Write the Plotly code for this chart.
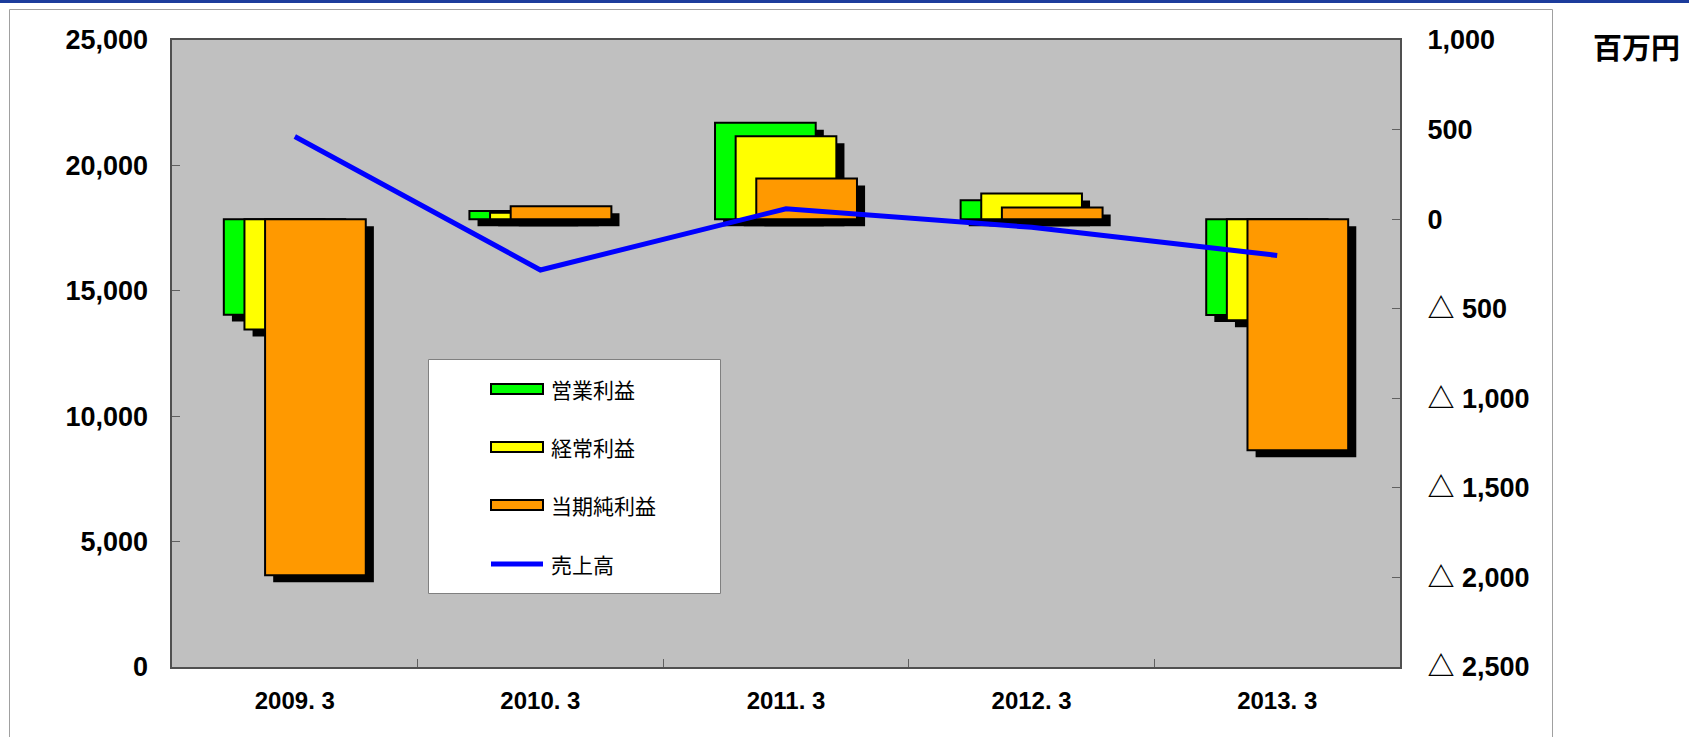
import plotly.graph_objects as go

# ---- data (百万円) ----
periods = ["2009. 3", "2010. 3", "2011. 3", "2012. 3", "2013. 3"]
sales = [21150, 15830, 18270, 17530, 16410]            # 売上高 (left axis)
operating_profit = [-533, 45, 538, 105, -535]         # 営業利益
ordinary_profit = [-616, 35, 463, 143, -565]          # 経常利益
net_income = [-1988, 72, 227, 65, -1290]              # 当期純利益

profit_ticks = [-2500, -2000, -1500, -1000, -500, 0, 500, 1000]
profit_ticktext = ["△ 2,500", "△ 2,000", "△ 1,500", "△ 1,000", "△ 500", "0", "500", "1,000"]
sales_ticks = [0, 5000, 10000, 15000, 20000, 25000]
sales_ticktext = ["0", "5,000", "10,000", "15,000", "20,000", "25,000"]

# ---- geometry ----
W, H = 1689, 737
L, R, T, B = 172, 1400, 40, 667

BAR_W = 0.41
SHADOW_DX = 0.033      # category units
SHADOW_DY = 39         # profit-axis units

series = [
    ("営業利益", operating_profit, "#00FF00", -0.289),
    ("経常利益", ordinary_profit, "#FFFF00", -0.205),
    ("当期純利益", net_income, "#FF9900", -0.121),
]


def px_x(x):
    return (x - L) / (R - L)


def px_y(y):
    return (B - y) / (B - T)


TICK_FONT = dict(family="Liberation Sans, Noto Sans CJK JP, sans-serif",
                 size=27, color="black", weight="bold")
JP_FONT = "Noto Sans CJK JP, sans-serif"

fig = go.Figure()

for name, vals, color, off in series:
    # drop shadow
    fig.add_trace(go.Bar(
        x=periods, y=vals, base=[-SHADOW_DY] * len(vals),
        offset=off + SHADOW_DX, width=BAR_W,
        marker=dict(color="black", line=dict(width=0)),
        showlegend=False, hoverinfo="skip", yaxis="y",
    ))
    fig.add_trace(go.Bar(
        x=periods, y=vals, offset=off, width=BAR_W, name=name,
        marker=dict(color=color, line=dict(color="black", width=2)),
        showlegend=False, yaxis="y",
    ))

fig.add_trace(go.Scatter(
    x=periods, y=sales, mode="lines", name="売上高", yaxis="y2",
    line=dict(color="#0000FF", width=5), showlegend=False,
))

shapes = []
annotations = []

# outer frame and top rule
shapes.append(dict(type="rect", xref="paper", yref="paper",
                   x0=px_x(9.5), x1=px_x(1552.5), y0=px_y(760), y1=px_y(9.5),
                   line=dict(color="#A0A0A0", width=1), fillcolor="rgba(0,0,0,0)", layer="below"))
shapes.append(dict(type="rect", xref="paper", yref="paper",
                   x0=px_x(-5), x1=px_x(W + 5), y0=px_y(3), y1=px_y(-1),
                   line=dict(width=0), fillcolor="#1C3C9C"))

# legend box
shapes.append(dict(type="rect", xref="paper", yref="paper",
                   x0=px_x(428.5), x1=px_x(720.5), y0=px_y(593.5), y1=px_y(359.5),
                   line=dict(color="#808080", width=1), fillcolor="white"))
legend_rows = [(name, color, yc) for (name, _, color, _), yc in zip(series, [389, 447, 505])]
for name, color, yc in legend_rows:
    shapes.append(dict(type="rect", xref="paper", yref="paper",
                       x0=px_x(491), x1=px_x(543), y0=px_y(yc + 5), y1=px_y(yc - 5),
                       line=dict(color="black", width=2), fillcolor=color))
    annotations.append(dict(xref="paper", yref="paper", x=px_x(549), y=px_y(yc),
                            xanchor="left", yanchor="middle", showarrow=False, text=name,
                            font=dict(family=JP_FONT, size=21, color="black")))
shapes.append(dict(type="line", xref="paper", yref="paper",
                   x0=px_x(491), x1=px_x(543), y0=px_y(564), y1=px_y(564),
                   line=dict(color="#0000FF", width=5)))
annotations.append(dict(xref="paper", yref="paper", x=px_x(549), y=px_y(564),
                        xanchor="left", yanchor="middle", showarrow=False, text="売上高",
                        font=dict(family=JP_FONT, size=21, color="black")))

# unit label
annotations.append(dict(xref="paper", yref="paper", x=px_x(1636), y=px_y(46),
                        xanchor="center", yanchor="middle", showarrow=False, text="百万円",
                        font=dict(family=JP_FONT, size=29, color="black", weight="bold")))

fig.update_layout(
    width=W, height=H,
    margin=dict(l=L, r=W - R, t=T, b=H - B, pad=0),
    paper_bgcolor="white", plot_bgcolor="#C0C0C0",
    barmode="overlay", showlegend=False,
    xaxis=dict(type="category", range=[-0.5, 4.5], tickson="boundaries",
               ticks="inside", ticklen=8, tickcolor="#606060", tickwidth=1,
               showline=True, linecolor="#505050", linewidth=2, mirror=True,
               showgrid=False, tickfont=dict(TICK_FONT, size=24), ticklabelstandoff=11),
    yaxis=dict(side="right", range=[-2500, 1000], tickvals=profit_ticks, ticktext=profit_ticktext,
               ticks="inside", ticklen=8, tickcolor="#606060", tickwidth=1,
               showline=True, linecolor="#505050", linewidth=2, mirror=True,
               showgrid=False, zeroline=False, tickfont=TICK_FONT, ticklabelstandoff=20),
    yaxis2=dict(overlaying="y", side="left", range=[0, 25000], tickvals=sales_ticks,
                ticktext=sales_ticktext, ticks="inside", ticklen=8, tickcolor="#606060",
                tickwidth=1, showline=False, showgrid=False, zeroline=False,
                tickfont=TICK_FONT, ticklabelstandoff=23),
    shapes=shapes, annotations=annotations,
)

fig.write_html("out.html")
